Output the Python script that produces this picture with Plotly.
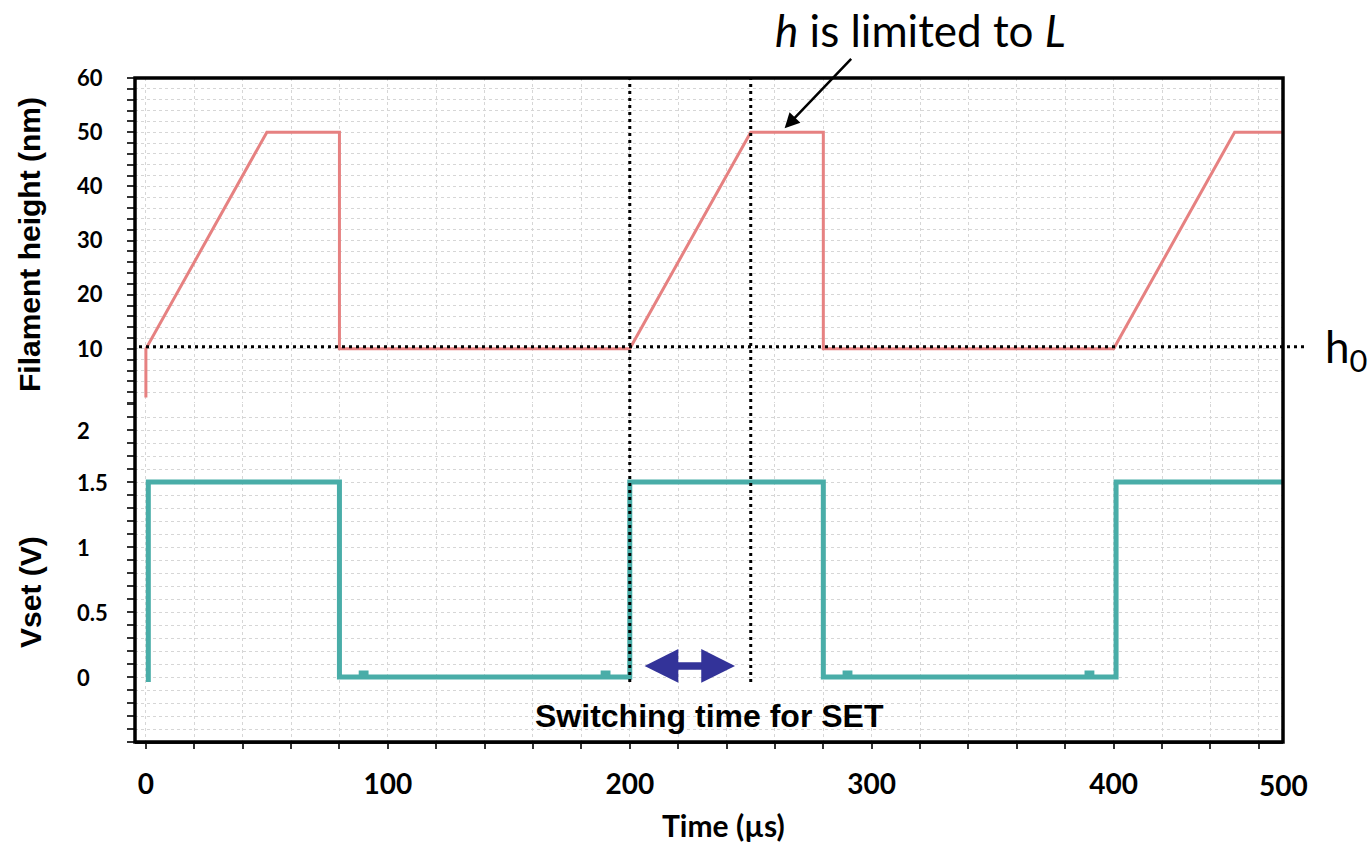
import plotly.graph_objects as go

# ---------------- data ----------------
# Filament height h (nm) vs time (µs)
h_time = [0, 0, 50, 80, 80, 200, 250, 280, 280, 400, 450, 470]
h_vals = [1, 10, 50, 50, 10, 10, 50, 50, 10, 10, 50, 50]

# Vset (V) vs time (µs), square pulses with tiny glitches
v_time = [0, 1, 1, 80, 80, 89, 89, 91, 91, 189, 189, 191, 191, 200, 200,
          280, 280, 289, 289, 291, 291, 389, 389, 391, 391, 401, 401, 470]
v_vals = [-0.02, -0.02, 1.5, 1.5, 0, 0, 0.03, 0.03, 0, 0, 0.03, 0.03, 0, 0, 1.5,
          1.5, 0, 0, 0.03, 0.03, 0, 0, 0.03, 0.03, 0, 0, 1.5, 1.5]

h0_level = 10.4
marker_times = [200, 250]            # dotted vertical guides
switch_arrow = [205.5, 243.5]        # double arrow extent (µs)
switch_arrow_v = 0.085

x_ticks = list(range(0, 461, 20))
x_labels = [str(t) if t % 100 == 0 else "" for t in x_ticks]
x_last_label = ("500", 470)

h_ticks = list(range(0, 61, 2))
h_labels = [str(v) if (v % 10 == 0 and v > 0) else "" for v in h_ticks]

v_ticks = [round(-0.5 + 0.1 * i, 1) for i in range(27)]
v_label_text = ["0", "0.5", "1", "1.5", "2"]
v_label_pos = [0, 0.5, 1, 1.5, 1.9]

# ---------------- figure ----------------
RED = "#E68181"
TEAL = "#49ADA8"
GRID = "#d6d6d6"

fig = go.Figure()
fig.add_trace(go.Scatter(x=h_time, y=h_vals, mode="lines",
                         line=dict(color=RED, width=3),
                         xaxis="x", yaxis="y", showlegend=False))
fig.add_trace(go.Scatter(x=v_time, y=v_vals, mode="lines",
                         line=dict(color=TEAL, width=5),
                         xaxis="x", yaxis="y2", showlegend=False))

W, H = 1368, 842
L, R, T, B = 135, 85, 78, 94
pw, ph = W - L - R, H - T - B


def px(xp):
    return (xp - L) / pw


def py(yp):
    return (H - B - yp) / ph


box_bottom = py(742)

fig.update_layout(
    width=W, height=H,
    margin=dict(l=L, r=R, t=T, b=B),
    paper_bgcolor="white", plot_bgcolor="white",
    showlegend=False,
    xaxis=dict(
        range=[-4.5, 470], anchor="y2",
        tickmode="array", tickvals=x_ticks, ticktext=x_labels,
        ticks="outside", ticklen=5, tickwidth=1.5, tickcolor="#333",
        showline=True, linecolor="#222", linewidth=1.5,
        showgrid=True, gridcolor=GRID, griddash="dot", gridwidth=1,
        zeroline=False,
        tickfont=dict(family="Lato", size=28, color="black", weight="bold"),
        ticklabelstandoff=12,
    ),
    yaxis=dict(
        domain=[py(403), 1], range=[0, 60],
        tickmode="array", tickvals=h_ticks, ticktext=h_labels,
        ticks="outside", ticklen=7, tickwidth=1.5, tickcolor="#333",
        showline=False, showgrid=True, gridcolor=GRID, griddash="dot", gridwidth=1,
        zeroline=False,
        tickfont=dict(family="Lato", size=22, color="black", weight="bold"),
        ticklabelstandoff=20,
    ),
    yaxis2=dict(
        domain=[box_bottom, py(404)], range=[-0.5, 2.1],
        tickmode="array", tickvals=v_ticks, ticktext=[""] * len(v_ticks),
        ticks="outside", ticklen=7, tickwidth=1.5, tickcolor="#333",
        showline=False, showgrid=True, gridcolor=GRID, griddash="dot", gridwidth=1,
        zeroline=False,
    ),
)

shapes = []
# frame
shapes.append(dict(type="rect", xref="paper", yref="paper", x0=0, x1=1,
                   y0=box_bottom, y1=1, line=dict(color="black", width=3.5),
                   layer="above"))
# h0 dotted line (extends past the frame)
shapes.append(dict(type="line", xref="paper", yref="y", x0=px(139), x1=px(1308),
                   y0=h0_level, y1=h0_level,
                   line=dict(color="black", width=3, dash="3px,4px"), layer="above"))
# vertical dotted guides
for t in marker_times:
    shapes.append(dict(type="line", xref="x", yref="paper", x0=t, x1=t,
                       y0=py(682), y1=1,
                       line=dict(color="black", width=3, dash="3px,4px"),
                       layer="above"))
fig.update_layout(shapes=shapes)

C = dict(xanchor="center", yanchor="middle", showarrow=False)
ann = []
ann.append(dict(text="Filament height (nm)", xref="paper", yref="paper",
                x=px(30), y=py(245), textangle=-90, **C,
                font=dict(family="Liberation Sans", size=30, color="black", weight="bold")))
ann.append(dict(text="Vset (V)", xref="paper", yref="paper",
                x=px(30), y=py(592), textangle=-90, **C,
                font=dict(family="Liberation Sans", size=30, color="black", weight="bold")))
ann.append(dict(text="Time (µs)", xref="paper", yref="paper",
                x=px(724), y=py(825), **C,
                font=dict(family="Lato", size=30, color="black", weight="bold")))
ann.append(dict(text=x_last_label[0], xref="x", yref="paper",
                x=x_last_label[1], y=py(785), **C,
                font=dict(family="Lato", size=28, color="black", weight="bold")))
for txt, v in zip(v_label_text, v_label_pos):
    ann.append(dict(text=txt, xref="paper", yref="y2", x=px(75), y=v,
                    xanchor="left", yanchor="middle", showarrow=False,
                    font=dict(family="Lato", size=22, color="black", weight="bold")))
ann.append(dict(text="Switching time for SET", xref="x", yref="y2",
                x=233, y=-0.3, **C,
                font=dict(family="Liberation Sans", size=32, color="black", weight="bold")))
ann.append(dict(text="<i>h</i> is limited to <i>L</i>", xref="paper", yref="paper",
                x=px(920), y=py(30), **C,
                font=dict(family="Lato", size=44, color="black")))
ann.append(dict(text="h<sub>0</sub>", xref="paper", yref="y",
                x=px(1323), y=h0_level - 0.5, xanchor="left", yanchor="middle",
                showarrow=False,
                font=dict(family="Lato", size=44, color="black")))
# arrow pointing at the plateau
ann.append(dict(text="", xref="x", yref="y", x=264, y=50.7,
                ax=68, ay=-71, showarrow=True, arrowhead=2, arrowsize=1.2,
                arrowwidth=2.5, arrowcolor="black", standoff=0))
# double arrow for switching time
ann.append(dict(text="", xref="x", yref="y2", x=switch_arrow[1], y=switch_arrow_v,
                axref="x", ayref="y2", ax=switch_arrow[0], ay=switch_arrow_v,
                showarrow=True, arrowhead=2, arrowside="end+start",
                arrowsize=0.9, arrowwidth=7.5, arrowcolor="#333399"))
fig.update_layout(annotations=ann)

fig.write_html("out.html")
